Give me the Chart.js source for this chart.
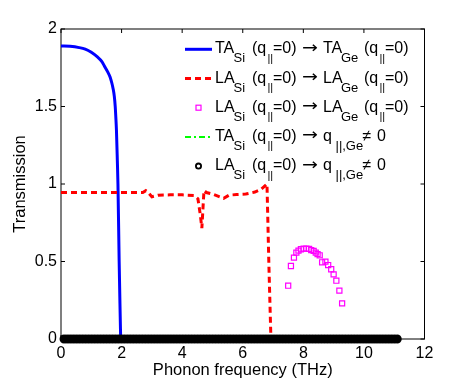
<!DOCTYPE html>
<html>
<head>
<meta charset="utf-8">
<script src="https://cdn.jsdelivr.net/npm/chart.js@4.4.0/dist/chart.umd.min.js"></script>
<style>
  html, body { margin: 0; padding: 0; background: #fff; }
  #wrap { width: 469px; height: 382px; }
</style>
</head>
<body>
<div id="wrap"><canvas id="transChart" width="469" height="382"></canvas></div>
<script>
// TA_Si (q||=0) -> TA_Ge (q||=0)
const taFreq = [0, 0.3, 0.6, 0.8, 1.0, 1.2, 1.35, 1.45, 1.55, 1.62, 1.68, 1.72, 1.76, 1.79, 1.81, 1.83, 1.86, 1.88, 1.92, 1.95, 1.97];
const taTrans = [1.89, 1.888, 1.88, 1.87, 1.85, 1.82, 1.79, 1.755, 1.72, 1.69, 1.65, 1.615, 1.565, 1.50, 1.43, 1.35, 1.15, 1.0, 0.5, 0.19, 0];

// LA_Si (q||=0) -> LA_Ge (q||=0), dashed curve
const laFreq = [0, 1, 2, 2.7, 2.8, 2.9, 3.0, 3.2, 3.6, 4.0, 4.4, 4.52, 4.6, 4.65, 4.68, 4.72, 4.8, 5.0, 5.2, 5.37, 5.55, 5.8, 6.1, 6.4, 6.6, 6.8, 6.86, 6.93];
const laTrans = [0.945, 0.945, 0.945, 0.945, 0.957, 0.94, 0.918, 0.928, 0.93, 0.93, 0.926, 0.905, 0.80, 0.715, 0.82, 0.958, 0.945, 0.935, 0.92, 0.908, 0.928, 0.932, 0.935, 0.948, 0.965, 1.0, 0.5, 0];

// LA_Si (q||=0) -> LA_Ge (q||=0), squares
const laSqFreq = [7.50, 7.59, 7.69, 7.77, 7.84, 7.92, 8.01, 8.10, 8.19, 8.26, 8.34, 8.41, 8.47, 8.54, 8.62, 8.73, 8.82, 8.92, 9.00, 9.09, 9.19, 9.28];
const laSqTrans = [0.344, 0.471, 0.525, 0.557, 0.570, 0.579, 0.583, 0.583, 0.581, 0.574, 0.568, 0.557, 0.548, 0.540, 0.495, 0.499, 0.477, 0.450, 0.417, 0.376, 0.312, 0.230];

// TA_Si (q||=0) -> q||,Ge != 0
const taQFreq = [0, 11.1];
const taQTrans = [0, 0];

// LA_Si (q||=0) -> q||,Ge != 0
const laQFreq = [
  0.1, 0.2, 0.3, 0.4, 0.5, 0.6, 0.7, 0.8, 0.9, 1.0, 1.1, 1.2, 1.3, 1.4, 1.5, 1.6, 1.7, 1.8, 1.9, 2.0,
  2.1, 2.2, 2.3, 2.4, 2.5, 2.6, 2.7, 2.8, 2.9, 3.0, 3.1, 3.2, 3.3, 3.4, 3.5, 3.6, 3.7, 3.8, 3.9, 4.0,
  4.1, 4.2, 4.3, 4.4, 4.5, 4.6, 4.7, 4.8, 4.9, 5.0, 5.1, 5.2, 5.3, 5.4, 5.5, 5.6, 5.7, 5.8, 5.9, 6.0,
  6.1, 6.2, 6.3, 6.4, 6.5, 6.6, 6.7, 6.8, 6.9, 7.0, 7.1, 7.2, 7.3, 7.4, 7.5, 7.6, 7.7, 7.8, 7.9, 8.0,
  8.1, 8.2, 8.3, 8.4, 8.5, 8.6, 8.7, 8.8, 8.9, 9.0, 9.1, 9.2, 9.3, 9.4, 9.5, 9.6, 9.7, 9.8, 9.9, 10.0,
  10.1, 10.2, 10.3, 10.4, 10.5, 10.6, 10.7, 10.8, 10.9, 11.0, 11.1
];
const laQTrans = [
  0, 0, 0, 0, 0, 0, 0, 0, 0, 0, 0, 0, 0, 0, 0, 0, 0, 0, 0, 0,
  0, 0, 0, 0, 0, 0, 0, 0, 0, 0, 0, 0, 0, 0, 0, 0, 0, 0, 0, 0,
  0, 0, 0, 0, 0, 0, 0, 0, 0, 0, 0, 0, 0, 0, 0, 0, 0, 0, 0, 0,
  0, 0, 0, 0, 0, 0, 0, 0, 0, 0, 0, 0, 0, 0, 0, 0, 0, 0, 0, 0,
  0, 0, 0, 0, 0, 0, 0, 0, 0, 0, 0, 0, 0, 0, 0, 0, 0, 0, 0, 0,
  0, 0, 0, 0, 0, 0, 0, 0, 0, 0, 0
];

// axis ticks
const xTicks = [0, 2, 4, 6, 8, 10, 12];
const yTicks = [0, 0.5, 1, 1.5, 2];

// legend text pieces: [text, kind] kind: 0 normal, 1 subscript, 2 arrow, 3 small bars
const legendLabels = [
  [['TA', 0], ['Si', 1], ['(q', 0], ['||', 3], ['=0)', 0], ['\u2192', 2], ['TA', 0], ['Ge', 1], ['(q', 0], ['||', 3], ['=0)', 0]],
  [['LA', 0], ['Si', 1], ['(q', 0], ['||', 3], ['=0)', 0], ['\u2192', 2], ['LA', 0], ['Ge', 1], ['(q', 0], ['||', 3], ['=0)', 0]],
  [['LA', 0], ['Si', 1], ['(q', 0], ['||', 3], ['=0)', 0], ['\u2192', 2], ['LA', 0], ['Ge', 1], ['(q', 0], ['||', 3], ['=0)', 0]],
  [['TA', 0], ['Si', 1], ['(q', 0], ['||', 3], ['=0)', 0], ['\u2192', 2], ['q', 0], ['||,Ge', 1], ['\u2260', 0], ['0', 0]],
  [['LA', 0], ['Si', 1], ['(q', 0], ['||', 3], ['=0)', 0], ['\u2192', 2], ['q', 0], ['||,Ge', 1], ['\u2260', 0], ['0', 0]]
];
// where each piece starts (px)
const legendXLong = [215, 233.5, 252, 267.5, 273, 302, 323, 341, 364, 379.5, 385];
const legendXShort = [215, 233.5, 252, 267.5, 273, 302, 323, 335.5, 362.5, 377];

const FONT = "'Liberation Sans', Arial, Helvetica, sans-serif";

function pts(xs, ys) {
  return xs.map((x, i) => ({ x: x, y: ys[i] }));
}

// frame with inward ticks, drawn under the data
const framePlugin = {
  id: 'frame',
  beforeDatasetsDraw(chart) {
    const { ctx, chartArea: a, scales } = chart;
    ctx.save();
    ctx.strokeStyle = '#000';
    ctx.lineWidth = 1;
    ctx.strokeRect(a.left, a.top, a.right - a.left, a.bottom - a.top);
    ctx.beginPath();
    xTicks.forEach(v => {
      const px = scales.x.getPixelForValue(v);
      ctx.moveTo(px, a.bottom); ctx.lineTo(px, a.bottom - 4);
      ctx.moveTo(px, a.top); ctx.lineTo(px, a.top + 4);
    });
    yTicks.forEach(v => {
      const py = scales.y.getPixelForValue(v);
      ctx.moveTo(a.left, py); ctx.lineTo(a.left + 4, py);
      ctx.moveTo(a.right, py); ctx.lineTo(a.right - 4, py);
    });
    ctx.stroke();
    ctx.restore();
  }
};

// legend with subscripts
const legendPlugin = {
  id: 'subLegend',
  afterDraw(chart) {
    const ctx = chart.ctx;
    const x0 = 185, x1 = 212, xm = 198.5;
    ctx.save();
    legendLabels.forEach((parts, i) => {
      const base = 53.3 + i * 29.2;
      const y = base - 4;
      ctx.save();
      if (i === 0) {
        ctx.strokeStyle = '#0000ff'; ctx.lineWidth = 3;
        ctx.beginPath(); ctx.moveTo(x0, y); ctx.lineTo(x1, y); ctx.stroke();
      } else if (i === 1) {
        ctx.strokeStyle = '#ff0000'; ctx.lineWidth = 3; ctx.setLineDash([6, 4]);
        ctx.beginPath(); ctx.moveTo(x0, y); ctx.lineTo(x1, y); ctx.stroke();
      } else if (i === 2) {
        ctx.strokeStyle = '#ff00ff'; ctx.lineWidth = 1.2;
        ctx.strokeRect(xm - 2.5, y - 2.5, 5, 5);
      } else if (i === 3) {
        ctx.strokeStyle = '#00ff00'; ctx.lineWidth = 2; ctx.setLineDash([6, 3, 2, 3]);
        ctx.beginPath(); ctx.moveTo(x0, y); ctx.lineTo(x1, y); ctx.stroke();
      } else {
        ctx.strokeStyle = '#000'; ctx.lineWidth = 1.8;
        ctx.beginPath(); ctx.arc(xm, y, 2.6, 0, Math.PI * 2); ctx.stroke();
      }
      ctx.restore();
      const xs = parts.length === 11 ? legendXLong : legendXShort;
      ctx.fillStyle = '#000';
      ctx.textBaseline = 'alphabetic';
      parts.forEach((p, j) => {
        const tx = xs[j];
        if (p[1] === 1) {
          ctx.font = '13px ' + FONT;
          ctx.fillText(p[0], tx, base + 9);
        } else if (p[1] === 3) {
          ctx.font = '11px ' + FONT;
          ctx.fillText(p[0], tx, base + 8.5);
        } else if (p[1] === 2) {
          ctx.save();
          ctx.font = "16px 'DejaVu Sans', sans-serif";
          const w = ctx.measureText(p[0]).width;
          ctx.translate(tx, base);
          ctx.scale(16 / w, 1);
          ctx.fillText(p[0], 0, -0.5);
          ctx.restore();
        } else {
          ctx.font = '16px ' + FONT;
          ctx.fillText(p[0], tx, base);
        }
      });
    });
    ctx.restore();
  }
};

const ctx = document.getElementById('transChart').getContext('2d');
const transChart = new Chart(ctx, {
  type: 'scatter',
  data: {
    datasets: [
      {
        label: 'LA_Si -> q_Ge != 0',
        data: pts(laQFreq, laQTrans),
        showLine: false,
        pointStyle: 'circle',
        pointRadius: 3.5,
        borderWidth: 2,
        borderColor: '#000',
        backgroundColor: '#000',
        clip: false
      },
      {
        label: 'TA_Si -> q_Ge != 0',
        data: pts(taQFreq, taQTrans),
        showLine: true,
        pointRadius: 0,
        borderColor: '#00ff00',
        borderWidth: 2,
        borderDash: [6, 3, 2, 3],
        clip: false
      },
      {
        label: 'LA_Si -> LA_Ge (squares)',
        data: pts(laSqFreq, laSqTrans),
        showLine: false,
        pointStyle: 'rect',
        pointRadius: 3.6,
        borderWidth: 1.2,
        borderColor: '#ff00ff',
        backgroundColor: 'rgba(0,0,0,0)'
      },
      {
        label: 'LA_Si -> LA_Ge',
        data: pts(laFreq, laTrans),
        showLine: true,
        pointRadius: 0,
        borderColor: '#ff0000',
        borderWidth: 3,
        borderDash: [6, 4],
        tension: 0,
        clip: false
      },
      {
        label: 'TA_Si -> TA_Ge',
        data: pts(taFreq, taTrans),
        showLine: true,
        pointRadius: 0,
        borderColor: '#0000ff',
        borderWidth: 3,
        cubicInterpolationMode: 'monotone',
        clip: false
      }
    ]
  },
  options: {
    responsive: false,
    animation: false,
    events: [],
    layout: { padding: { top: 29, right: 44.5, left: 0, bottom: 0 } },
    plugins: {
      legend: { display: false },
      tooltip: { enabled: false }
    },
    scales: {
      x: {
        type: 'linear',
        min: 0,
        max: 12,
        afterFit: (scale) => { scale.height = 43; },
        afterBuildTicks: (scale) => { scale.ticks = xTicks.map(v => ({ value: v })); },
        ticks: { font: { family: FONT, size: 16 }, color: '#000', padding: 5, maxRotation: 0 },
        grid: { display: false, drawTicks: false },
        border: { display: false },
        title: {
          display: true,
          text: 'Phonon frequency (THz)',
          font: { family: FONT, size: 16.5 },
          color: '#000',
          padding: { top: 0, bottom: 2 }
        }
      },
      y: {
        type: 'linear',
        min: 0,
        max: 2,
        afterFit: (scale) => { scale.width = 61; },
        afterBuildTicks: (scale) => { scale.ticks = yTicks.map(v => ({ value: v })); },
        ticks: {
          font: { family: FONT, size: 16 },
          color: '#000',
          padding: 4,
          callback: (value) => String(value)
        },
        grid: { display: false, drawTicks: false },
        border: { display: false },
        title: {
          display: true,
          text: 'Transmission',
          font: { family: FONT, size: 16.5 },
          color: '#000',
          padding: { top: 11, bottom: 0 }
        }
      }
    }
  },
  plugins: [framePlugin, legendPlugin]
});
</script>
</body>
</html>
